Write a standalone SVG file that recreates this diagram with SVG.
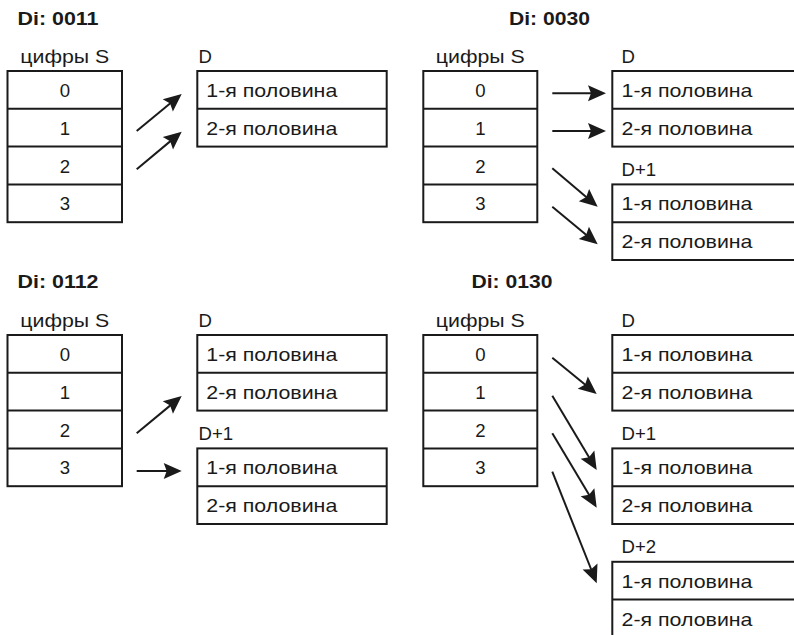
<svg xmlns="http://www.w3.org/2000/svg" width="794" height="635" viewBox="0 0 794 635">
<style>
.box{fill:#fff;stroke:#1a1a1a;stroke-width:2}
.div{stroke:#1a1a1a;stroke-width:2}
.t{font-family:"Liberation Sans",Arial,sans-serif;font-size:18.6px;fill:#1a1a1a}
.c{text-anchor:middle}
.h{font-weight:bold}
.ar{stroke:#1a1a1a;stroke-width:2;fill:none;marker-end:url(#ah)}
</style>
<defs>
<marker id="ah" markerUnits="userSpaceOnUse" markerWidth="18" markerHeight="16" refX="8" refY="8" orient="auto" overflow="visible">
<path d="M0,0 L18,8 L0,16 L3,8 Z" fill="#1a1a1a"/>
</marker>
</defs>
<rect width="794" height="635" fill="#fff"/>

<!-- Panel 1: Di 0011 -->
<text class="t h" x="17.5" y="25" textLength="81" lengthAdjust="spacingAndGlyphs">Di: 0011</text>
<g id="s1">
<text class="t c" x="64.8" y="63" textLength="89" lengthAdjust="spacingAndGlyphs">цифры S</text>
<rect class="box" x="7.5" y="71" width="114.5" height="151.2"/>
<line class="div" x1="7.5" y1="108.8" x2="122" y2="108.8"/>
<line class="div" x1="7.5" y1="146.6" x2="122" y2="146.6"/>
<line class="div" x1="7.5" y1="184.4" x2="122" y2="184.4"/>
<text class="t c" x="64.8" y="96.9">0</text>
<text class="t c" x="64.8" y="134.7">1</text>
<text class="t c" x="64.8" y="172.5">2</text>
<text class="t c" x="64.8" y="210.3">3</text>
</g>
<g id="d1">
<text class="t" x="198.5" y="63">D</text>
<rect class="box" x="197.3" y="71" width="189.4" height="75.6"/>
<line class="div" x1="197.3" y1="108.8" x2="386.7" y2="108.8"/>
<text class="t" x="206.3" y="96.9" textLength="131" lengthAdjust="spacingAndGlyphs">1-я половина</text>
<text class="t" x="206.3" y="134.7" textLength="131" lengthAdjust="spacingAndGlyphs">2-я половина</text>
</g>

<!-- Panel 2: Di 0030 -->
<text class="t h" x="509" y="25" textLength="81" lengthAdjust="spacingAndGlyphs">Di: 0030</text>
<g id="s2">
<text class="t c" x="480.3" y="63" textLength="89" lengthAdjust="spacingAndGlyphs">цифры S</text>
<rect class="box" x="423.3" y="71" width="114" height="151.2"/>
<line class="div" x1="423.3" y1="108.8" x2="537.3" y2="108.8"/>
<line class="div" x1="423.3" y1="146.6" x2="537.3" y2="146.6"/>
<line class="div" x1="423.3" y1="184.4" x2="537.3" y2="184.4"/>
<text class="t c" x="480.3" y="96.9">0</text>
<text class="t c" x="480.3" y="134.7">1</text>
<text class="t c" x="480.3" y="172.5">2</text>
<text class="t c" x="480.3" y="210.3">3</text>
</g>
<g id="d2">
<text class="t" x="621.5" y="63">D</text>
<rect class="box" x="612.3" y="71" width="189.4" height="75.6"/>
<line class="div" x1="612.3" y1="108.8" x2="801.7" y2="108.8"/>
<text class="t" x="621.5" y="96.9" textLength="131" lengthAdjust="spacingAndGlyphs">1-я половина</text>
<text class="t" x="621.5" y="134.7" textLength="131" lengthAdjust="spacingAndGlyphs">2-я половина</text>
</g>
<g id="d2p1">
<text class="t" x="621.5" y="175.5">D+1</text>
<rect class="box" x="612.3" y="184.4" width="189.4" height="75.6"/>
<line class="div" x1="612.3" y1="222.2" x2="801.7" y2="222.2"/>
<text class="t" x="621.5" y="210.3" textLength="131" lengthAdjust="spacingAndGlyphs">1-я половина</text>
<text class="t" x="621.5" y="248.1" textLength="131" lengthAdjust="spacingAndGlyphs">2-я половина</text>
</g>

<!-- Panel 3: Di 0112 -->
<text class="t h" x="17.5" y="288.3" textLength="81" lengthAdjust="spacingAndGlyphs">Di: 0112</text>
<g id="s3">
<text class="t c" x="64.8" y="327" textLength="89" lengthAdjust="spacingAndGlyphs">цифры S</text>
<rect class="box" x="7.5" y="335" width="114.5" height="151.2"/>
<line class="div" x1="7.5" y1="372.8" x2="122" y2="372.8"/>
<line class="div" x1="7.5" y1="410.6" x2="122" y2="410.6"/>
<line class="div" x1="7.5" y1="448.4" x2="122" y2="448.4"/>
<text class="t c" x="64.8" y="360.9">0</text>
<text class="t c" x="64.8" y="398.7">1</text>
<text class="t c" x="64.8" y="436.5">2</text>
<text class="t c" x="64.8" y="474.3">3</text>
</g>
<g id="d3">
<text class="t" x="198.5" y="327">D</text>
<rect class="box" x="197.3" y="335" width="189.4" height="75.6"/>
<line class="div" x1="197.3" y1="372.8" x2="386.7" y2="372.8"/>
<text class="t" x="206.3" y="360.9" textLength="131" lengthAdjust="spacingAndGlyphs">1-я половина</text>
<text class="t" x="206.3" y="398.7" textLength="131" lengthAdjust="spacingAndGlyphs">2-я половина</text>
</g>
<g id="d3p1">
<text class="t" x="198.5" y="440">D+1</text>
<rect class="box" x="197.3" y="448.4" width="189.4" height="75.6"/>
<line class="div" x1="197.3" y1="486.2" x2="386.7" y2="486.2"/>
<text class="t" x="206.3" y="474.3" textLength="131" lengthAdjust="spacingAndGlyphs">1-я половина</text>
<text class="t" x="206.3" y="512.1" textLength="131" lengthAdjust="spacingAndGlyphs">2-я половина</text>
</g>

<!-- Panel 4: Di 0130 -->
<text class="t h" x="471.5" y="288.3" textLength="81" lengthAdjust="spacingAndGlyphs">Di: 0130</text>
<g id="s4">
<text class="t c" x="480.3" y="327" textLength="89" lengthAdjust="spacingAndGlyphs">цифры S</text>
<rect class="box" x="423.3" y="335" width="114" height="151.2"/>
<line class="div" x1="423.3" y1="372.8" x2="537.3" y2="372.8"/>
<line class="div" x1="423.3" y1="410.6" x2="537.3" y2="410.6"/>
<line class="div" x1="423.3" y1="448.4" x2="537.3" y2="448.4"/>
<text class="t c" x="480.3" y="360.9">0</text>
<text class="t c" x="480.3" y="398.7">1</text>
<text class="t c" x="480.3" y="436.5">2</text>
<text class="t c" x="480.3" y="474.3">3</text>
</g>
<g id="d4">
<text class="t" x="621.5" y="327">D</text>
<rect class="box" x="612.3" y="335" width="189.4" height="75.6"/>
<line class="div" x1="612.3" y1="372.8" x2="801.7" y2="372.8"/>
<text class="t" x="621.5" y="360.9" textLength="131" lengthAdjust="spacingAndGlyphs">1-я половина</text>
<text class="t" x="621.5" y="398.7" textLength="131" lengthAdjust="spacingAndGlyphs">2-я половина</text>
</g>
<g id="d4p1">
<text class="t" x="621.5" y="440">D+1</text>
<rect class="box" x="612.3" y="448.4" width="189.4" height="75.6"/>
<line class="div" x1="612.3" y1="486.2" x2="801.7" y2="486.2"/>
<text class="t" x="621.5" y="474.3" textLength="131" lengthAdjust="spacingAndGlyphs">1-я половина</text>
<text class="t" x="621.5" y="512.1" textLength="131" lengthAdjust="spacingAndGlyphs">2-я половина</text>
</g>
<g id="d4p2">
<text class="t" x="621.5" y="553.3">D+2</text>
<rect class="box" x="612.3" y="561.8" width="189.4" height="75.6"/>
<line class="div" x1="612.3" y1="599.6" x2="801.7" y2="599.6"/>
<text class="t" x="621.5" y="587.7" textLength="131" lengthAdjust="spacingAndGlyphs">1-я половина</text>
<text class="t" x="621.5" y="625.5" textLength="131" lengthAdjust="spacingAndGlyphs">2-я половина</text>
</g>

<g id="connectors">
<line class="ar" x1="136.7" y1="131" x2="173.98" y2="100.35"/>
<line class="ar" x1="136.7" y1="169.3" x2="174.03" y2="138.11"/>
<line class="ar" x1="552.3" y1="93.3" x2="596" y2="93.3"/>
<line class="ar" x1="552.3" y1="131" x2="596" y2="131"/>
<line class="ar" x1="552.3" y1="168.3" x2="590.06" y2="200.24"/>
<line class="ar" x1="552.3" y1="206.7" x2="590" y2="237.92"/>
<line class="ar" x1="136.7" y1="433.3" x2="174" y2="402.38"/>
<line class="ar" x1="136.7" y1="471" x2="171.7" y2="471"/>
<line class="ar" x1="552.3" y1="357.7" x2="588.96" y2="387.67"/>
<line class="ar" x1="552.3" y1="395.7" x2="591.57" y2="461.42"/>
<line class="ar" x1="552.3" y1="433.3" x2="591.58" y2="499.11"/>
<line class="ar" x1="552.3" y1="471.7" x2="593" y2="574"/>
</g>
</svg>
